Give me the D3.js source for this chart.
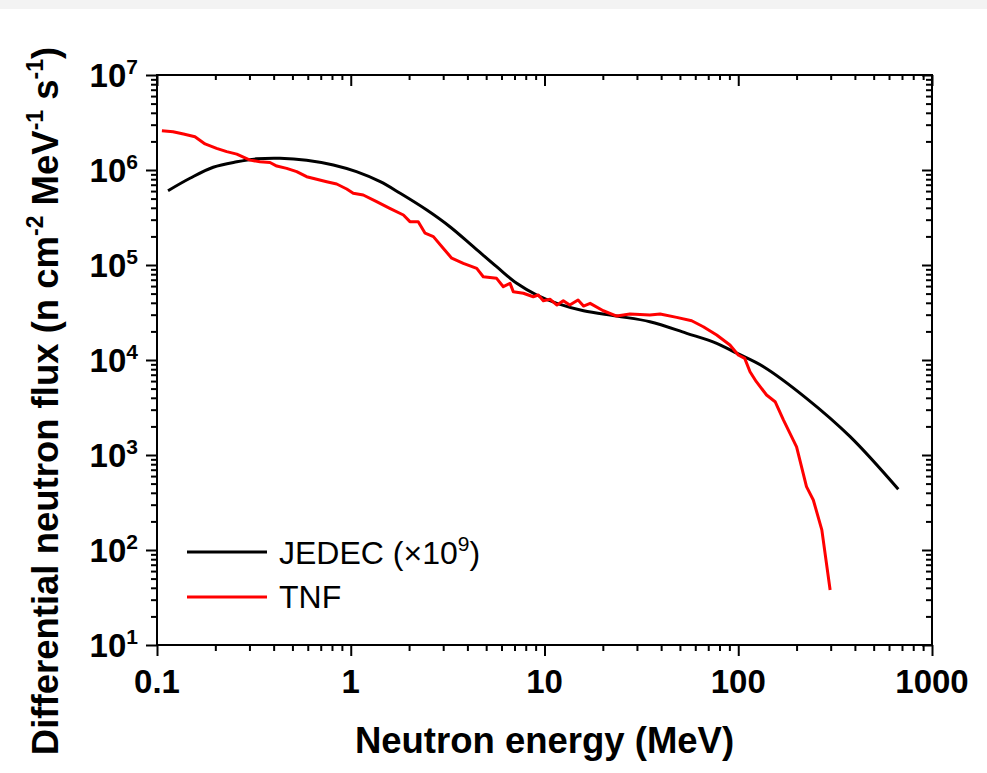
<!DOCTYPE html>
<html>
<head>
<meta charset="utf-8">
<script src="https://cdn.jsdelivr.net/npm/d3@7"></script>
<style>
  body { margin: 0; background: #fff; }
  svg text { font-family: "Liberation Sans", Arial, sans-serif; }
</style>
</head>
<body>
<svg id="chart" width="987" height="773"></svg>
<script>
// JEDEC reference spectrum (x1e9) and TNF measured spectrum
const jedecEnergy = [0.114, 0.148, 0.195, 0.258, 0.327, 0.431, 0.592, 0.813, 1.07, 1.42, 1.80, 2.47, 3.25, 4.29, 5.66, 7.19, 9.12, 11.6, 15.9, 23.6, 35.0, 54.2, 77.4, 98.2, 135, 225, 378, 670];
const jedecFlux = [6.05e5, 8.18e5, 1.07e6, 1.22e6, 1.31e6, 1.33e6, 1.27e6, 1.13e6, 9.6e5, 7.53e5, 5.69e5, 3.79e5, 2.53e5, 1.56e5, 9.6e4, 6.41e4, 4.83e4, 3.95e4, 3.30e4, 2.90e4, 2.53e4, 1.91e4, 1.50e4, 1.18e4, 8.5e3, 3.95e3, 1.56e3, 436];

const tnfEnergy = [0.106, 0.121, 0.137, 0.157, 0.177, 0.203, 0.229, 0.258, 0.302, 0.340, 0.383, 0.415, 0.467, 0.526, 0.592, 0.667, 0.751, 0.846, 0.953, 1.03, 1.16, 1.36, 1.59, 1.87, 2.02, 2.23, 2.42, 2.67, 3.0, 3.32, 3.81, 4.47, 4.83, 5.66, 6.13, 6.64, 6.90, 7.78, 8.75, 9.29, 9.86, 10.7, 11.6, 12.5, 13.5, 14.9, 15.9, 17.2, 20.1, 23.6, 27.6, 35.0, 39.5, 48.1, 57.5, 66.0, 77.4, 90.6, 100, 108, 115, 124, 140, 155, 171, 200, 225, 244, 270, 298];
const tnfFlux = [2.59e6, 2.53e6, 2.39e6, 2.24e6, 1.88e6, 1.69e6, 1.56e6, 1.47e6, 1.27e6, 1.22e6, 1.2e6, 1.10e6, 1.04e6, 9.6e5, 8.5e5, 7.98e5, 7.53e5, 7.12e5, 6.31e5, 5.69e5, 5.46e5, 4.64e5, 3.95e5, 3.36e5, 2.86e5, 2.86e5, 2.16e5, 1.99e5, 1.50e5, 1.18e5, 1.04e5, 9.2e4, 7.53e4, 7.24e4, 5.91e4, 6.41e4, 5.24e4, 5.04e4, 4.63e4, 4.83e4, 4.21e4, 4.35e4, 3.79e4, 4.21e4, 3.79e4, 4.28e4, 3.70e4, 3.95e4, 3.30e4, 2.90e4, 3.05e4, 2.98e4, 3.05e4, 2.81e4, 2.59e4, 2.24e4, 1.83e4, 1.44e4, 1.13e4, 1.04e4, 7.53e3, 5.91e3, 4.28e3, 3.64e3, 2.34e3, 1.22e3, 464, 336, 163, 38];

// tick labels
const xTickValues = [0.1, 1, 10, 100, 1000];
const xTickLabels = ["0.1", "1", "10", "100", "1000"];
const yExponents = [1, 2, 3, 4, 5, 6, 7];

const plotLeft = 157, plotRight = 932, plotTop = 75, plotBottom = 645;

const svg = d3.select("#chart");

// thin grey strip at the top of the page
svg.append("rect")
  .attr("x", 0).attr("y", 0)
  .attr("width", 987).attr("height", 9)
  .attr("fill", "#f3f3f3");

const x = d3.scaleLog().domain([0.1, 1000]).range([plotLeft, plotRight]);
const y = d3.scaleLog().domain([10, 1e7]).range([plotBottom, plotTop]);

// minor ticks 2..9 in each decade
const xMinor = [];
[0.1, 1, 10, 100].forEach(d => { for (let k = 2; k <= 9; k++) xMinor.push(k * d); });
const yMinor = [];
[10, 100, 1e3, 1e4, 1e5, 1e6].forEach(d => { for (let k = 2; k <= 9; k++) yMinor.push(k * d); });
const yMajor = yExponents.map(e => Math.pow(10, e));

function drawAxis(axis, transform) {
  const g = svg.append("g").attr("transform", transform).call(axis);
  g.select(".domain").remove();
  g.selectAll("line").attr("stroke", "#000").attr("stroke-width", 2);
  g.selectAll("text").remove();
  return g;
}

// bottom (outward) and top (inward)
drawAxis(d3.axisBottom(x).tickValues(xTickValues).tickSize(11), `translate(0,${plotBottom})`);
drawAxis(d3.axisBottom(x).tickValues(xMinor).tickSize(6), `translate(0,${plotBottom})`);
drawAxis(d3.axisTop(x).tickValues(xTickValues).tickSize(-11), `translate(0,${plotTop})`);
drawAxis(d3.axisTop(x).tickValues(xMinor).tickSize(-5), `translate(0,${plotTop})`);
// left (outward) and right (inward)
drawAxis(d3.axisLeft(y).tickValues(yMajor).tickSize(11), `translate(${plotLeft},0)`);
drawAxis(d3.axisLeft(y).tickValues(yMinor).tickSize(6), `translate(${plotLeft},0)`);
drawAxis(d3.axisRight(y).tickValues(yMajor).tickSize(-10), `translate(${plotRight},0)`);
drawAxis(d3.axisRight(y).tickValues(yMinor).tickSize(-6), `translate(${plotRight},0)`);

// frame
svg.append("rect")
  .attr("x", plotLeft).attr("y", plotTop)
  .attr("width", plotRight - plotLeft).attr("height", plotBottom - plotTop)
  .attr("fill", "none").attr("stroke", "#000").attr("stroke-width", 2);

// x tick labels
svg.append("g").selectAll("text")
  .data(xTickValues)
  .enter().append("text")
  .attr("x", d => x(d))
  .attr("y", 693)
  .attr("text-anchor", "middle")
  .attr("font-size", 33)
  .attr("font-weight", "bold")
  .text((d, i) => xTickLabels[i]);

// y tick labels 10^n
const yl = svg.append("g").selectAll("text")
  .data(yExponents)
  .enter().append("text")
  .attr("x", 138)
  .attr("y", d => y(Math.pow(10, d)) + 12)
  .attr("text-anchor", "end")
  .attr("font-size", 33)
  .attr("font-weight", "bold");
yl.append("tspan").text("10");
yl.append("tspan").attr("font-size", 21).attr("dy", -13).text(d => d);

// curves
const line = d3.line().x(d => x(d[0])).y(d => y(d[1]));

svg.append("path")
  .datum(jedecEnergy.map((e, i) => [e, jedecFlux[i]]))
  .attr("fill", "none")
  .attr("stroke", "#000")
  .attr("stroke-width", 3)
  .attr("d", line.curve(d3.curveCatmullRom.alpha(0.5)));

svg.append("path")
  .datum(tnfEnergy.map((e, i) => [e, tnfFlux[i]]))
  .attr("fill", "none")
  .attr("stroke", "#ff0000")
  .attr("stroke-width", 3)
  .attr("stroke-linejoin", "round")
  .attr("d", line.curve(d3.curveLinear));

// legend
const legend = svg.append("g");
legend.append("line").attr("x1", 187).attr("x2", 267).attr("y1", 552).attr("y2", 552)
  .attr("stroke", "#000").attr("stroke-width", 3);
legend.append("line").attr("x1", 187).attr("x2", 267).attr("y1", 597).attr("y2", 597)
  .attr("stroke", "#ff0000").attr("stroke-width", 3);
const jl = legend.append("text").attr("x", 279).attr("y", 564).attr("font-size", 32);
jl.append("tspan").text("JEDEC (\u00d710");
jl.append("tspan").attr("font-size", 21).attr("dy", -13).text("9");
jl.append("tspan").attr("dy", 13).text(")");
legend.append("text").attr("x", 279).attr("y", 608).attr("font-size", 32).text("TNF");

// axis titles
svg.append("text")
  .attr("x", (plotLeft + plotRight) / 2)
  .attr("y", 753)
  .attr("text-anchor", "middle")
  .attr("font-size", 36.5)
  .attr("font-weight", "bold")
  .text("Neutron energy (MeV)");

const yt = svg.append("text")
  .attr("transform", "rotate(-90)")
  .attr("x", -401)
  .attr("y", 58)
  .attr("text-anchor", "middle")
  .attr("font-size", 36.5)
  .attr("font-weight", "bold");
yt.append("tspan").text("Differential neutron flux (n cm");
yt.append("tspan").attr("font-size", 23).attr("dy", -15).text("-2");
yt.append("tspan").attr("dy", 15).text(" MeV");
yt.append("tspan").attr("font-size", 23).attr("dy", -15).text("-1");
yt.append("tspan").attr("dy", 15).text(" s");
yt.append("tspan").attr("font-size", 23).attr("dy", -15).text("-1");
yt.append("tspan").attr("dy", 15).text(")");
</script>
</body>
</html>
